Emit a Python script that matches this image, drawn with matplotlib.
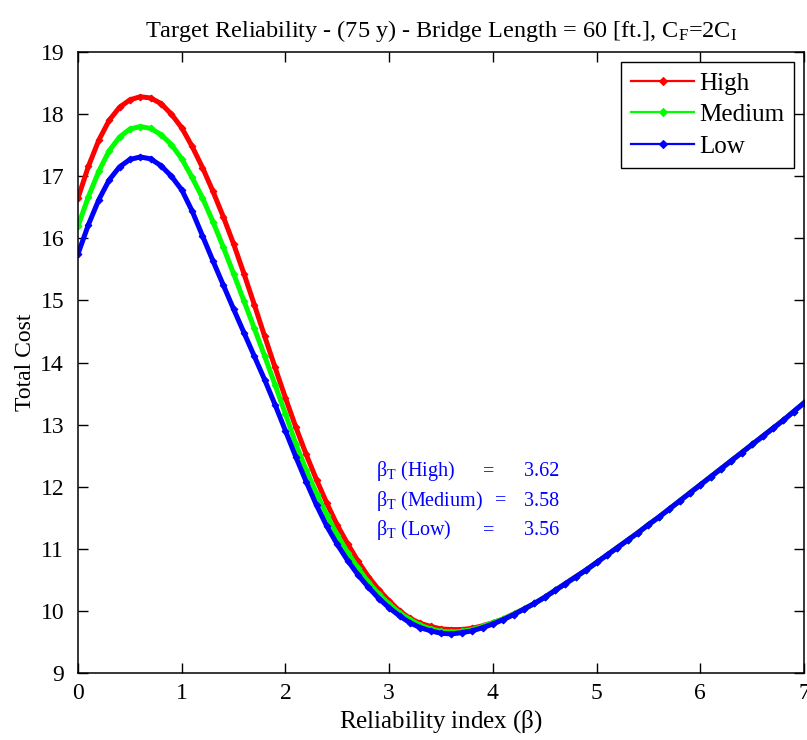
import numpy as np
import matplotlib
matplotlib.use("Agg")
import matplotlib.pyplot as plt

plt.rcParams['font.family'] = ['Liberation Serif', 'DejaVu Serif']
plt.rcParams['mathtext.fontset'] = 'custom'
plt.rcParams['mathtext.rm'] = 'Liberation Serif'
plt.rcParams['mathtext.it'] = 'Liberation Serif'

# Reliability index grid (step 0.1)
beta = [round(0.1 * i, 1) for i in range(71)]

# Common part of the three cost curves for beta >= 4.4
tail = [10.12, 10.22, 10.33, 10.44, 10.55, 10.66, 10.78, 10.90, 11.02, 11.14,
        11.26, 11.39, 11.51, 11.64, 11.77, 11.90, 12.03, 12.16, 12.29, 12.42,
        12.55, 12.68, 12.81, 12.94, 13.07, 13.21, 13.35]

cost_high = [16.65, 17.16, 17.58, 17.90, 18.11, 18.23, 18.28, 18.26, 18.17, 18.00,
             17.78, 17.48, 17.14, 16.76, 16.35, 15.91, 15.43, 14.93, 14.42, 13.92,
             13.43, 12.96, 12.52, 12.11, 11.73, 11.38, 11.08, 10.80, 10.55, 10.34,
             10.16, 10.00, 9.88, 9.80, 9.75, 9.71, 9.70, 9.70, 9.72, 9.76,
             9.81, 9.87, 9.95, 10.03] + tail

cost_medium = [16.20, 16.67, 17.08, 17.41, 17.63, 17.76, 17.80, 17.77, 17.67, 17.51,
               17.28, 16.98, 16.65, 16.27, 15.86, 15.43, 14.99, 14.55, 14.10, 13.64,
               13.17, 12.69, 12.27, 11.89, 11.54, 11.22, 10.94, 10.69, 10.46, 10.27,
               10.11, 9.97, 9.86, 9.77, 9.71, 9.67, 9.66, 9.67, 9.70, 9.75,
               9.81, 9.87, 9.95, 10.03] + tail

cost_low = [15.75, 16.22, 16.62, 16.94, 17.15, 17.27, 17.31, 17.28, 17.17, 17.00,
            16.78, 16.44, 16.04, 15.64, 15.25, 14.86, 14.48, 14.10, 13.72, 13.32,
            12.90, 12.48, 12.08, 11.70, 11.36, 11.07, 10.81, 10.58, 10.38, 10.20,
            10.05, 9.92, 9.81, 9.73, 9.68, 9.64, 9.63, 9.65, 9.68, 9.73,
            9.79, 9.86, 9.94, 10.03] + tail

series_names = ['High', 'Medium', 'Low']
series_colors = ['#ff0000', '#00ff00', '#0000ff']
target_beta = [3.62, 3.58, 3.56]

fig = plt.figure(figsize=(8.07, 7.40), dpi=100)
ax = fig.add_axes([0.0967, 0.0905, 0.8996, 0.8392])

for vals, name, col in zip([cost_high, cost_medium, cost_low], series_names, series_colors):
    ax.plot(beta, vals, color=col, lw=3.6, marker='D', markersize=3.4,
            markeredgewidth=0.8, label=name)

ax.set_xlim(0, 7)
ax.set_ylim(9, 19)
ax.set_xticks(range(0, 8))
ax.set_yticks(range(9, 20))
ax.tick_params(direction='in', length=7, width=1, top=True, right=True,
               labelsize=17)
ax.tick_params(axis='y', pad=10)
ax.tick_params(axis='x', pad=7)
for s in ax.spines.values():
    s.set_linewidth(1.1)

ax.set_title('Target Reliability - (75 y) - Bridge Length = 60 [ft.], '
             r'C$_\mathrm{F}$=2C$_\mathrm{I}$', fontsize=17.5, pad=11)
ax.set_xlabel(r'Reliability index ($\beta$)', fontsize=18, labelpad=3)
ax.set_ylabel('Total Cost', fontsize=17, labelpad=3)

leg = ax.legend(loc='upper right', fontsize=18, frameon=True, fancybox=False,
                edgecolor='black', framealpha=1, borderpad=0.4,
                handlelength=2.5, handletextpad=0.2, labelspacing=0.36,
                borderaxespad=0.4)
leg.get_frame().set_linewidth(1.0)
for h in leg.get_lines():
    h.set_linewidth(1.6)
    h.set_markersize(4)

# Optimal target reliability for each level
rows_y = [12.25, 11.77, 11.30]
for yv, name, bt in zip(rows_y, series_names, target_beta):
    ax.text(2.87, yv, r'$\beta_\mathrm{T}$ (' + name + ')', color='#0000ff',
            fontsize=14.5, va='center')
    ax.text(4.02 if name == 'Medium' else 3.9, yv, '=', color='#0000ff',
            fontsize=14.5, va='center')
    ax.text(4.3, yv, f'{bt:.2f}', color='#0000ff', fontsize=14.5, va='center')

fig.savefig('out.png', dpi=100)
